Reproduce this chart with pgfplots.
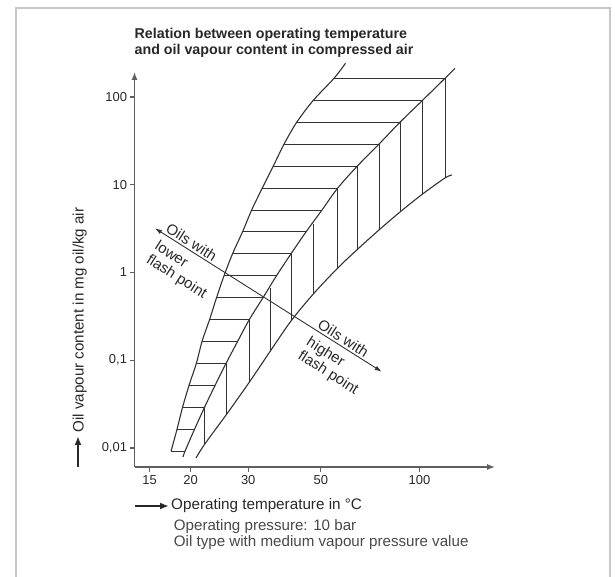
\documentclass[border=0pt]{standalone}
\usepackage{fontspec}
\setmainfont{Liberation Sans}
\usepackage{pgfplots}
\pgfplotsset{compat=1.18}
\usetikzlibrary{arrows.meta}
\definecolor{ink}{RGB}{40,40,40}
\definecolor{lin}{RGB}{50,50,50}
\definecolor{axl}{RGB}{95,95,95}
\pgfplotsset{seg/.style={lin, line width=0.9bp, forget plot}}
\begin{document}
\begin{tikzpicture}
\useasboundingbox (0bp,0bp) rectangle (615bp,577bp);
\draw[black!22, line width=1.6bp] (15.7bp,-3bp) |- (610bp,569bp) -- (610bp,-3bp);
\begin{axis}[
 at={(134.5bp,110bp)}, anchor=south west,
 scale only axis, width=360.5bp, height=395bp,
 xmode=log, ymode=log,
 xmin=13.49, xmax=170, ymin=0.00607, ymax=192.7,
 enlargelimits=false, clip=false,
 axis lines=left,
 axis line style={axl, line width=1.3bp, -{Latex[length=8bp,width=6bp]}},
 tick align=outside, major tick length=5bp,
 every tick/.style={axl, line width=1.1bp},
 xtick={15,20,30,50,100}, xticklabels={15,20,30,50,100},
 ytick={0.01,0.1,1,10,100}, yticklabels={{0,01},{0,1},1,10,100},
 xminorticks=false, yminorticks=false,
 ticklabel style={font=\fontsize{13}{15}\selectfont, text=ink},
 yticklabel style={xshift=1bp},
]
% left curve
\addplot[lin, line width=1.1bp, smooth] coordinates {
(17.44,0.00918) (18.19,0.01633) (18.91,0.0290) (19.79,0.0516) (20.83,0.0918)
(21.68,0.1633) (22.86,0.290) (24.01,0.516) (25.31,0.918) (26.87,1.633)
(28.82,2.90) (30.74,5.16) (33.12,9.18) (35.79,16.33) (38.59,29.0)
(42.19,51.6) (47.41,91.8) (54.83,163.3) (59.44,242.1)};
% middle curve
\addplot[lin, line width=1.1bp, smooth] coordinates {
(18.97,0.00790) (19.24,0.00918) (20.57,0.01633) (22.06,0.0290) (23.76,0.0516)
(25.66,0.0918) (27.83,0.1633) (30.22,0.290) (33.29,0.516) (36.60,0.918)
(40.52,1.633) (45.03,2.90) (50.4,5.16) (56.3,9.18) (64.6,16.33)
(75.2,29.0) (87.2,51.6) (102.2,91.8) (119.6,163.3) (128.3,212.3)};
% lower curve
\addplot[lin, line width=1.1bp, smooth] coordinates {
(20.78,0.00769) (22.06,0.01096) (25.66,0.0237) (30.22,0.05608) (34.97,0.1258)
(40.52,0.280) (47.41,0.5689) (56.3,1.125) (64.6,1.83) (75.2,3.050)
(87.2,4.892) (102.2,7.846) (119.6,11.94) (125.7,12.91)};
% horizontal lines
\addplot[seg] coordinates {(54.83,163.3) (119.6,163.3)};
\addplot[seg] coordinates {(47.41,91.8) (102.2,91.8)};
\addplot[seg] coordinates {(42.19,51.6) (87.2,51.6)};
\addplot[seg] coordinates {(38.59,29.0) (75.2,29.0)};
\addplot[seg] coordinates {(35.79,16.33) (64.6,16.33)};
\addplot[seg] coordinates {(33.12,9.18) (56.3,9.18)};
\addplot[seg] coordinates {(30.74,5.16) (50.4,5.16)};
\addplot[seg] coordinates {(28.82,2.90) (45.03,2.90)};
\addplot[seg] coordinates {(26.87,1.633) (40.52,1.633)};
\addplot[seg] coordinates {(25.31,0.918) (36.60,0.918)};
\addplot[seg] coordinates {(24.01,0.516) (33.29,0.516)};
\addplot[seg] coordinates {(22.86,0.290) (30.22,0.290)};
\addplot[seg] coordinates {(21.68,0.1633) (27.83,0.1633)};
\addplot[seg] coordinates {(20.83,0.0918) (25.66,0.0918)};
\addplot[seg] coordinates {(19.79,0.0516) (23.76,0.0516)};
\addplot[seg] coordinates {(18.91,0.0290) (22.06,0.0290)};
\addplot[seg] coordinates {(18.19,0.01633) (20.57,0.01633)};
\addplot[seg] coordinates {(17.44,0.00918) (19.24,0.00918)};
% vertical lines
\addplot[seg] coordinates {(119.6,163.3) (119.6,11.94)};
\addplot[seg] coordinates {(102.2,91.8) (102.2,7.846)};
\addplot[seg] coordinates {(87.2,51.6) (87.2,4.892)};
\addplot[seg] coordinates {(75.2,29.0) (75.2,3.050)};
\addplot[seg] coordinates {(64.6,16.33) (64.6,1.83)};
\addplot[seg] coordinates {(56.3,9.18) (56.3,1.125)};
\addplot[seg] coordinates {(47.41,3.551) (47.41,0.5689)};
\addplot[seg] coordinates {(40.52,1.633) (40.52,0.280)};
\addplot[seg] coordinates {(34.97,0.6606) (34.97,0.1258)};
\addplot[seg] coordinates {(30.22,0.290) (30.22,0.05608)};
\addplot[seg] coordinates {(25.66,0.0918) (25.66,0.0237)};
\addplot[seg] coordinates {(22.06,0.0290) (22.06,0.01096)};
\end{axis}
% annotation arrow
\draw[lin, line width=0.9bp, {Latex[length=7bp,width=4.5bp]}-{Latex[length=7bp,width=4.5bp]}] (155bp,348.7bp) -- (381.7bp,205.3bp);
\begin{scope}[every node/.style={anchor=base west, rotate=-32.32, inner sep=0pt, font=\fontsize{15}{16}\selectfont, text=ink}]
\node at (164.79bp,345.47bp) {\begin{tabular}[t]{@{}l@{}}Oils with\\[4.5bp] lower\\ flash point\end{tabular}};
\node at (316.49bp,249.50bp) {\begin{tabular}[t]{@{}l@{}}Oils with\\[4.5bp] higher\\ flash point\end{tabular}};
\end{scope}
% titles and labels
\node[anchor=base west, inner sep=0pt, font=\bfseries\fontsize{14.3}{16}\selectfont, text=ink] at (134.5bp,538.5bp) {Relation between operating temperature};
\node[anchor=base west, inner sep=0pt, font=\bfseries\fontsize{14.3}{16}\selectfont, text=ink] at (134.5bp,522.5bp) {and oil vapour content in compressed air};
\draw[ink, line width=2.2bp, -{Latex[length=9bp,width=7bp]}] (78bp,110bp) -- (78bp,141bp);
\node[anchor=base, rotate=90, inner sep=0pt, font=\fontsize{15.2}{18}\selectfont, text=ink] at (83.5bp,257bp) {Oil vapour content in mg oil/kg air};
\draw[ink, line width=2.2bp, -{Latex[length=9bp,width=7bp]}] (134.5bp,71bp) -- (169bp,71bp);
\node[anchor=base west, inner sep=0pt, font=\fontsize{15.3}{18}\selectfont, text=ink] at (171bp,67bp) {Operating temperature in °C};
\node[anchor=base west, inner sep=0pt, font=\fontsize{15.2}{18}\selectfont, text=ink!85] at (173.7bp,46bp) {Operating pressure: 10 bar};
\node[anchor=base west, inner sep=0pt, font=\fontsize{15.2}{18}\selectfont, text=ink!85] at (173.7bp,30.5bp) {Oil type with medium vapour pressure value};
\end{tikzpicture}
\end{document}
